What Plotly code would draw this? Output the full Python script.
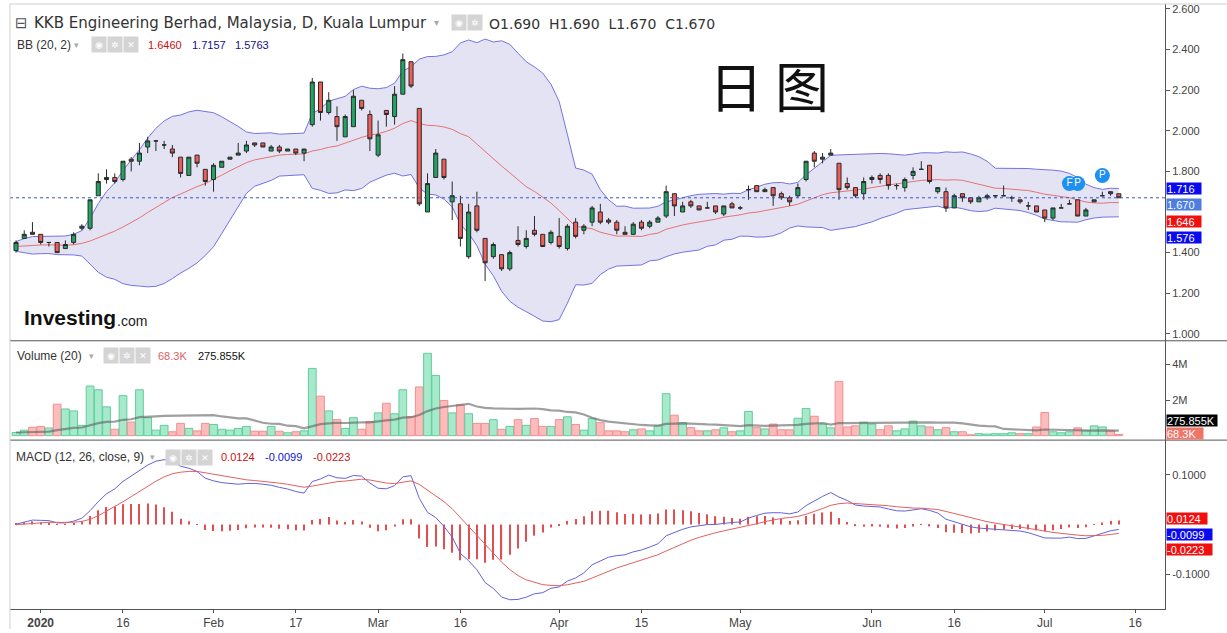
import numpy as np
import pandas as pd
import plotly.graph_objects as go
from plotly.subplots import make_subplots

# ---------------- data ----------------
holidays = ['2020-01-01', '2020-01-27', '2020-05-01', '2020-05-07', '2020-05-11',
            '2020-05-25', '2020-05-26', '2020-06-08']
calendar = [d.strftime('%Y-%m-%d') for d in pd.bdate_range('2019-12-27', '2020-07-24')
            if d.strftime('%Y-%m-%d') not in holidays]

opens = [1.41, 1.47, 1.50, 1.49, 1.45, 1.45, 1.42, 1.45, 1.52, 1.52,
         1.68, 1.76, 1.77, 1.76, 1.86, 1.85, 1.92, 1.95, 1.93, 1.91,
         1.87, 1.78, 1.88, 1.81, 1.76, 1.82, 1.86, 1.88, 1.90, 1.94,
         1.94, 1.90, 1.92, 1.90, 1.91, 1.89, 2.03, 2.24, 2.09, 2.07,
         1.97, 2.02, 2.15, 2.08, 1.88, 2.10, 2.07, 2.18, 2.34, 2.11,
         1.60, 1.77, 1.86, 1.65, 1.64, 1.38, 1.63, 1.47, 1.38, 1.39,
         1.32, 1.46, 1.43, 1.51, 1.49, 1.45, 1.48, 1.42, 1.55, 1.51,
         1.55, 1.60, 1.56, 1.55, 1.50, 1.49, 1.55, 1.53, 1.55, 1.58,
         1.69, 1.60, 1.65, 1.63, 1.62, 1.63, 1.59, 1.64, 1.62, 1.71,
         1.73, 1.70, 1.72, 1.69, 1.67, 1.68, 1.76, 1.89, 1.86, 1.88,
         1.84, 1.74, 1.72, 1.69, 1.76, 1.78, 1.78, 1.73, 1.72, 1.78,
         1.81, 1.83, 1.70, 1.70, 1.62, 1.69, 1.67, 1.65, 1.67, 1.68,
         1.68, 1.67, 1.66, 1.63, 1.63, 1.61, 1.57, 1.62, 1.64, 1.66,
         1.58, 1.65, 1.68, 1.70, 1.69]
highs = [1.46, 1.51, 1.55, 1.49, 1.45, 1.45, 1.46, 1.50, 1.54, 1.66,
         1.79, 1.81, 1.79, 1.85, 1.87, 1.94, 1.97, 1.95, 1.95, 1.93,
         1.87, 1.87, 1.88, 1.81, 1.84, 1.85, 1.87, 1.94, 1.95, 1.94,
         1.94, 1.93, 1.93, 1.91, 1.91, 1.91, 2.26, 2.24, 2.19, 2.12,
         2.08, 2.20, 2.15, 2.10, 2.05, 2.10, 2.22, 2.38, 2.34, 2.11,
         1.79, 1.91, 1.86, 1.75, 1.68, 1.64, 1.70, 1.47, 1.45, 1.39,
         1.41, 1.53, 1.51, 1.58, 1.49, 1.51, 1.57, 1.54, 1.57, 1.54,
         1.63, 1.64, 1.57, 1.56, 1.53, 1.55, 1.56, 1.56, 1.58, 1.73,
         1.69, 1.65, 1.66, 1.63, 1.65, 1.63, 1.63, 1.65, 1.63, 1.73,
         1.73, 1.72, 1.72, 1.70, 1.68, 1.74, 1.85, 1.90, 1.89, 1.91,
         1.84, 1.77, 1.72, 1.77, 1.78, 1.79, 1.79, 1.74, 1.77, 1.82,
         1.85, 1.83, 1.72, 1.72, 1.69, 1.69, 1.67, 1.68, 1.69, 1.68,
         1.73, 1.68, 1.66, 1.65, 1.63, 1.61, 1.62, 1.64, 1.66, 1.66,
         1.62, 1.66, 1.70, 1.70, 1.69]
lows = [1.40, 1.47, 1.49, 1.44, 1.43, 1.40, 1.42, 1.44, 1.51, 1.51,
        1.68, 1.74, 1.74, 1.75, 1.80, 1.83, 1.89, 1.90, 1.91, 1.87,
        1.77, 1.78, 1.82, 1.73, 1.70, 1.82, 1.86, 1.88, 1.89, 1.92,
        1.92, 1.90, 1.89, 1.90, 1.88, 1.85, 2.02, 2.05, 2.08, 1.95,
        1.97, 2.02, 2.10, 1.90, 1.87, 2.02, 2.03, 2.18, 2.21, 1.63,
        1.60, 1.77, 1.76, 1.56, 1.43, 1.37, 1.50, 1.26, 1.37, 1.31,
        1.31, 1.43, 1.42, 1.48, 1.43, 1.44, 1.42, 1.41, 1.47, 1.49,
        1.53, 1.54, 1.54, 1.49, 1.49, 1.49, 1.51, 1.52, 1.55, 1.57,
        1.58, 1.60, 1.62, 1.61, 1.62, 1.59, 1.58, 1.62, 1.61, 1.66,
        1.70, 1.70, 1.63, 1.66, 1.63, 1.67, 1.75, 1.82, 1.84, 1.88,
        1.66, 1.71, 1.67, 1.66, 1.74, 1.74, 1.71, 1.71, 1.70, 1.76,
        1.81, 1.74, 1.69, 1.60, 1.62, 1.65, 1.64, 1.65, 1.66, 1.67,
        1.68, 1.65, 1.64, 1.61, 1.60, 1.55, 1.56, 1.62, 1.64, 1.58,
        1.58, 1.65, 1.68, 1.68, 1.67]
closes = [1.45, 1.49, 1.49, 1.45, 1.45, 1.40, 1.44, 1.49, 1.53, 1.66,
          1.75, 1.77, 1.75, 1.85, 1.85, 1.89, 1.95, 1.95, 1.93, 1.89,
          1.79, 1.87, 1.84, 1.75, 1.83, 1.85, 1.87, 1.89, 1.93, 1.93,
          1.92, 1.92, 1.90, 1.91, 1.89, 1.91, 2.24, 2.09, 2.15, 2.02,
          2.07, 2.17, 2.11, 1.96, 1.98, 2.08, 2.18, 2.35, 2.22, 1.64,
          1.74, 1.89, 1.77, 1.68, 1.47, 1.60, 1.51, 1.35, 1.44, 1.32,
          1.40, 1.44, 1.47, 1.49, 1.43, 1.50, 1.43, 1.53, 1.48, 1.53,
          1.62, 1.55, 1.55, 1.51, 1.49, 1.54, 1.52, 1.55, 1.57, 1.70,
          1.63, 1.63, 1.63, 1.61, 1.62, 1.60, 1.63, 1.62, 1.62, 1.71,
          1.70, 1.71, 1.68, 1.67, 1.65, 1.72, 1.85, 1.85, 1.87, 1.89,
          1.71, 1.72, 1.68, 1.75, 1.77, 1.76, 1.73, 1.73, 1.76, 1.80,
          1.81, 1.75, 1.72, 1.62, 1.68, 1.67, 1.65, 1.67, 1.68, 1.68,
          1.68, 1.67, 1.65, 1.63, 1.60, 1.57, 1.62, 1.62, 1.64, 1.58,
          1.61, 1.66, 1.68, 1.69, 1.67]
volumes_m = [0.18, 0.31, 0.47, 0.52, 0.43, 1.77, 1.50, 1.39, 0.58, 2.79,
             2.58, 1.62, 0.36, 2.25, 0.76, 2.58, 1.01, 0.31, 0.58, 0.22,
             0.69, 0.41, 0.27, 0.69, 0.63, 0.36, 0.31, 0.41, 0.52, 0.25,
             0.25, 0.52, 0.25, 0.16, 0.22, 0.27, 3.78, 2.22, 1.39, 0.90,
             0.41, 1.01, 0.36, 0.79, 1.28, 1.82, 1.23, 2.58, 1.06, 2.74,
             4.63, 3.39, 1.98, 1.28, 1.73, 1.23, 0.69, 0.69, 0.90, 0.36,
             0.52, 0.90, 0.58, 0.96, 0.52, 0.52, 0.90, 1.06, 0.63, 0.31,
             0.96, 0.73, 0.27, 0.27, 0.22, 0.33, 0.38, 0.27, 0.55, 2.36,
             1.15, 0.73, 0.45, 0.27, 0.27, 0.33, 0.44, 0.22, 0.27, 1.36,
             0.45, 0.38, 0.65, 0.33, 0.33, 0.98, 1.53, 1.09, 0.65, 0.44,
             3.05, 0.49, 0.55, 0.76, 0.65, 0.33, 0.55, 0.27, 0.38, 0.82,
             0.55, 0.49, 0.33, 0.45, 0.22, 0.22, 0.05, 0.11, 0.09, 0.11,
             0.11, 0.16, 0.11, 0.11, 0.49, 1.30, 0.22, 0.16, 0.22, 0.44,
             0.27, 0.55, 0.49, 0.27, 0.0683]
# warm-up history (Dec 2019, before the visible window) for the indicators, estimated
prior_closes_est = [1.43, 1.44, 1.42, 1.43, 1.45, 1.44, 1.42, 1.41, 1.43, 1.44,
                    1.42, 1.43, 1.45, 1.43, 1.41, 1.42, 1.44, 1.43, 1.42]
prior_volumes_m_est = [0.15, 0.22, 0.12, 0.25, 0.18, 0.10, 0.20, 0.16, 0.24, 0.14,
                       0.19, 0.21, 0.13, 0.17, 0.20, 0.15, 0.23, 0.18, 0.16]

tick_dates = ['2020-01-02', '2020-01-16', '2020-02-03', '2020-02-17', '2020-03-02',
              '2020-03-16', '2020-04-01', '2020-04-15', '2020-05-04', '2020-06-01',
              '2020-06-16', '2020-07-01', '2020-07-16']
tick_labels = ['<b>2020</b>', '16', 'Feb', '17', 'Mar', '16', 'Apr', '15', 'May',
               'Jun', '16', 'Jul', '16']
# price ticks shown on the axis (1.600 is hidden behind the value tags in the reference)
price_ticks = [1.0, 1.2, 1.4, 1.8, 2.0, 2.2, 2.4, 2.6]

events = ['F', 'P', 'P']
event_dates = ['2020-07-06', '2020-07-07', '2020-07-10']

# ---------------- indicators ----------------
n = len(closes)
x = np.arange(n)
pos = {d: i for i, d in enumerate(calendar)}
tickvals = [pos[d] for d in tick_dates]

cl_all = pd.Series(prior_closes_est + closes)
mid = cl_all.rolling(20).mean().iloc[-n:].values
sd = cl_all.rolling(20).std(ddof=0).iloc[-n:].values
upper = mid + 2 * sd
lower = mid - 2 * sd
ema12 = cl_all.ewm(span=12, adjust=False).mean()
ema26 = cl_all.ewm(span=26, adjust=False).mean()
macd_all = ema12 - ema26
sig_all = macd_all.ewm(span=9, adjust=False).mean()
macd = macd_all.iloc[-n:].values
signal = sig_all.iloc[-n:].values
hist = macd - signal

vol = np.array(volumes_m) * 1e6
vol_all = pd.Series(prior_volumes_m_est + volumes_m) * 1e6
vma = vol_all.rolling(20).mean().iloc[-n:].values
up = [c >= o for o, c in zip(opens, closes)]

# ---------------- figure ----------------
fig = make_subplots(rows=3, cols=1, shared_xaxes=True, vertical_spacing=0)

fig.add_trace(go.Scatter(x=x, y=upper, mode='lines', line=dict(color='#7373e0', width=1),
                         hoverinfo='skip'), row=1, col=1)
fig.add_trace(go.Scatter(x=x, y=lower, mode='lines', line=dict(color='#7373e0', width=1),
                         fill='tonexty', fillcolor='#e3e3f3', hoverinfo='skip'), row=1, col=1)
fig.add_trace(go.Scatter(x=x, y=mid, mode='lines', line=dict(color='#e57373', width=1),
                         hoverinfo='skip'), row=1, col=1)
# candles on an overlaying axis so they sit above the band fill
fig.add_trace(go.Candlestick(x=x, open=opens, high=highs, low=lows, close=closes,
                             increasing=dict(fillcolor='#20a464', line=dict(color='#2a2a2a', width=1)),
                             decreasing=dict(fillcolor='#ef5d59', line=dict(color='#2a2a2a', width=1)),
                             whiskerwidth=0, hoverinfo='skip', xaxis='x', yaxis='y4'))
ev_x = [pos[d] for d in event_dates]
ev_y = [highs[i] + 0.08 for i in ev_x]
fig.add_trace(go.Scatter(x=ev_x, y=ev_y, mode='markers+text', text=events,
                         marker=dict(size=15, color='#1e90f0'),
                         textfont=dict(color='white', size=10, family='Liberation Sans'),
                         textposition='middle center', hoverinfo='skip', xaxis='x', yaxis='y4'))

fig.add_trace(go.Bar(x=x, y=vol,
                     marker=dict(color=['#a6e9cb' if u else '#fcbcbc' for u in up],
                                 line=dict(color=['#62cc9c' if u else '#f09090' for u in up], width=1)),
                     hoverinfo='skip'), row=2, col=1)
fig.add_trace(go.Scatter(x=x, y=vma, mode='lines', line=dict(color='rgba(95,95,95,0.6)', width=2.2),
                         hoverinfo='skip'), row=2, col=1)

fig.add_trace(go.Bar(x=x, y=hist, width=0.14, marker=dict(color='#e05050', line=dict(width=0)),
                     hoverinfo='skip'), row=3, col=1)
fig.add_trace(go.Scatter(x=x, y=macd, mode='lines', line=dict(color='#6262dc', width=1),
                         hoverinfo='skip'), row=3, col=1)
fig.add_trace(go.Scatter(x=x, y=signal, mode='lines', line=dict(color='#e26060', width=1),
                         hoverinfo='skip'), row=3, col=1)

TOP, BOT, L, R = 3, 612, 10, 1165
H = BOT - TOP
W = R - L


def px(xp):
    return (xp - L) / W


def py(yp):
    return (BOT - yp) / H


d_price = [py(342), 1.0]
d_vol = [py(442), py(342)]
d_macd = [0.0, py(442)]
price_range = [0.966, 2.624]

axfont = dict(family='Liberation Sans', size=11, color='#444')
yax = dict(side='right', showline=True, linecolor='#555', linewidth=1, ticks='outside',
           ticklen=4, tickcolor='#555', tickfont=axfont, showgrid=False, zeroline=False,
           fixedrange=True)

fig.update_layout(
    width=1227, height=633,
    margin=dict(l=L, r=1227 - R, t=TOP, b=633 - BOT),
    paper_bgcolor='white', plot_bgcolor='white',
    showlegend=False, bargap=0.06,
    yaxis=dict(domain=d_price, range=price_range,
               tickvals=price_ticks, tickformat='.3f', **yax),
    yaxis2=dict(domain=d_vol, range=[-0.251e6, 5.335e6], tickvals=[2e6, 4e6],
                ticktext=['2M', '4M'], **yax),
    yaxis3=dict(domain=d_macd, range=[-0.17, 0.17], tickvals=[-0.1, 0.1],
                ticktext=['-0.1000', '0.1000'], **yax),
    yaxis4=dict(domain=d_price, range=price_range, overlaying='y', anchor='x', visible=False,
                fixedrange=True),
)
xr = [(L - 16) / 8.23, (R - 16) / 8.23]
fig.update_xaxes(range=xr, showgrid=False, zeroline=False, rangeslider_visible=False,
                 showticklabels=False, fixedrange=True)
fig.update_xaxes(row=3, col=1, showticklabels=True, tickvals=tickvals, ticktext=tick_labels,
                 tickfont=dict(family='Liberation Sans', size=12, color='#444'),
                 showline=True, linecolor='#555', ticks='outside', ticklen=3, tickcolor='#555')

shapes = []
# last close dotted line
shapes.append(dict(type='line', xref='paper', x0=0, x1=1, yref='y', y0=closes[-1], y1=closes[-1],
                   line=dict(color='#3a55d0', width=1, dash='dot')))
# panel separators
for yp in (342, 442):
    shapes.append(dict(type='line', xref='paper', x0=0, x1=px(1227), yref='paper',
                       y0=py(yp), y1=py(yp), line=dict(color='#555', width=1)))
# light frame
shapes.append(dict(type='line', xref='paper', x0=0, x1=0, yref='paper', y0=py(632), y1=1,
                   line=dict(color='#cfcfcf', width=1)))
shapes.append(dict(type='line', xref='paper', x0=0, x1=px(1227), yref='paper', y0=1, y1=1,
                   line=dict(color='#cfcfcf', width=1)))
fig.update_layout(shapes=shapes)

ann = []


def text(t, xp, yp, size=12, color='#333', family='Liberation Sans', **kw):
    ann.append(dict(text=t, x=px(xp), y=py(yp), xref='paper', yref='paper', xanchor='left',
                    yanchor='middle', showarrow=False,
                    font=dict(size=size, color=color, family=family), **kw))


def icons(xs, yp, glyphs):
    for xp, g in zip(xs, glyphs):
        ann.append(dict(text=g, x=px(xp), y=py(yp), xref='paper', yref='paper', xanchor='left',
                        yanchor='middle', showarrow=False, bgcolor='#d4d4d4', width=12, height=13,
                        font=dict(size=9, color='white', family='DejaVu Sans')))


def tag(t, yp, bg, w):
    ann.append(dict(text=t, x=px(1166), y=py(yp), xref='paper', yref='paper', xanchor='left',
                    yanchor='middle', showarrow=False, bgcolor=bg, width=w, height=11,
                    align='left', borderpad=0,
                    font=dict(size=11, color='white', family='Liberation Sans')))


# header rows
text('⊟', 13, 22, size=15, color='#555', family='DejaVu Sans')
text('KKB Engineering Berhad, Malaysia, D, Kuala Lumpur', 32, 22, size=15, color='#333',
     family='DejaVu Sans')
text('▾', 432, 22, size=10, color='#aaa', family='DejaVu Sans')
icons([451, 467], 22, ['◉', '✲'])
text('O1.690 &nbsp;H1.690 &nbsp;L1.670 &nbsp;C1.670', 487, 23, size=14, color='#333',
     family='DejaVu Sans')

text('BB (20, 2)', 15, 44, size=12)
text('▾', 72, 44, size=9, color='#aaa', family='DejaVu Sans')
icons([91, 107, 123], 44, ['◉', '✲', '✕'])
text('1.6460', 146, 44, size=11, color='#cc1111')
text('1.7157', 190, 44, size=11, color='#11118a')
text('1.5763', 233, 44, size=11, color='#11118a')

text('Volume (20)', 15, 357, size=12)
text('▾', 87, 357, size=9, color='#aaa', family='DejaVu Sans')
icons([103, 119, 135], 357, ['◉', '✲', '✕'])
text('68.3K', 156, 357, size=11, color='#e06060')
text('275.855K', 196, 357, size=11, color='#111')

text('MACD (12, 26, close, 9)', 14, 459, size=12)
text('▾', 148, 459, size=9, color='#aaa', family='DejaVu Sans')
icons([165, 181, 197], 459, ['◉', '✲', '✕'])
text('0.0124', 219, 459, size=11, color='#cc1111')
text('-0.0099', 263, 459, size=11, color='#1111cc')
text('-0.0223', 311, 459, size=11, color='#cc1111')

# watermark & big label
text('<b>Investing</b>', 22, 319, size=21, color='#111', family='Liberation Sans')
text('.com', 115, 322, size=14, color='#222', family='Liberation Sans')
text('日 图', 707, 84, size=54, color='#111', family='Noto Sans CJK SC')

# right-axis value tags
tag('1.716', 188.5, '#0a0af0', 34)
tag('1.670', 204.5, '#4d7ee0', 34)
tag('1.646', 221.5, '#f01010', 34)
tag('1.576', 238, '#0a0af0', 34)
tag('275.855K', 422, '#000000', 50)
tag('68.3K', 435.5, '#f07468', 36)
tag('0.0124', 521, '#f01010', 40)
tag('-0.0099', 537, '#0a0af0', 45)
tag('-0.0223', 552.5, '#f01010', 45)

fig.update_layout(annotations=ann)

fig.write_html('out.html', config={'displayModeBar': False},
               post_script="document.body.style.margin='0px';document.body.style.overflow='hidden';")
